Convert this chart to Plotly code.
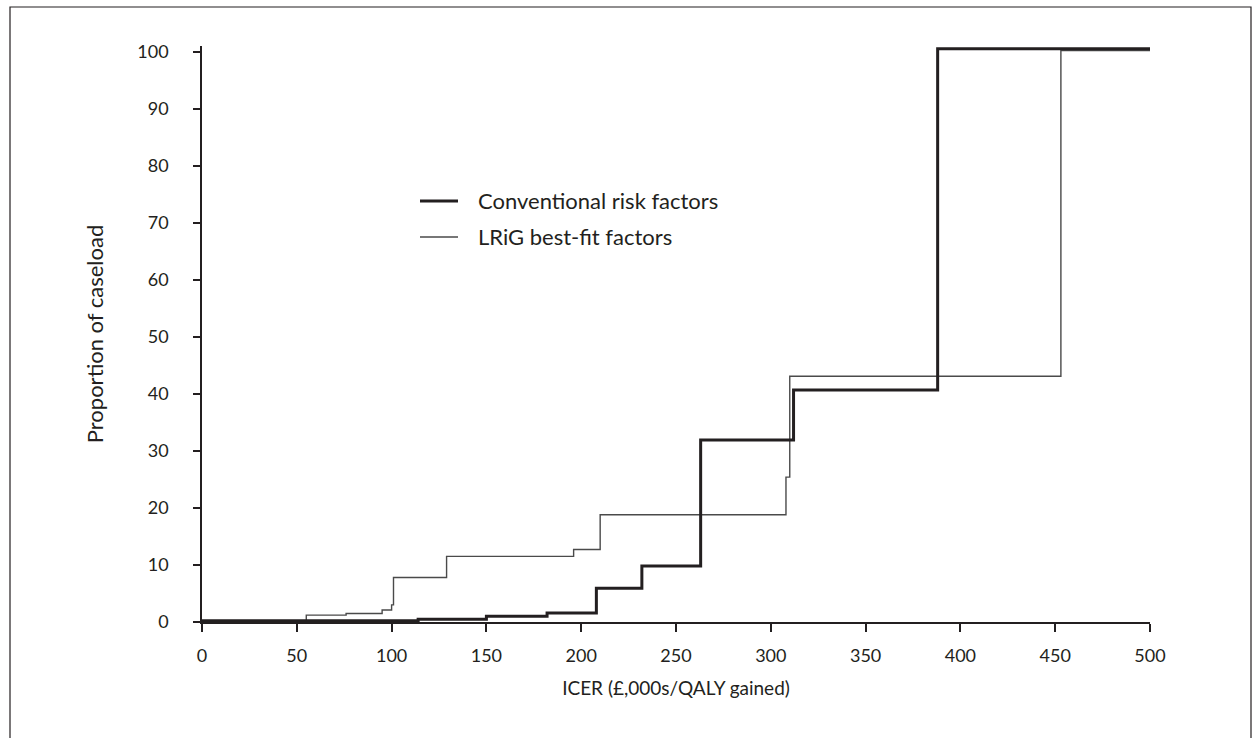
import plotly.graph_objects as go

# Cumulative proportion of caseload (%) by ICER threshold (£,000s/QALY gained)
conv_icer = [0, 114, 150, 182, 208, 232, 263, 312, 388, 500]
conv_prop = [0.2, 0.5, 1.0, 1.6, 5.9, 9.8, 31.9, 40.7, 100.5, 100.5]

lrig_icer = [0, 55, 76, 95, 100, 101, 129, 196, 210, 308, 310, 453, 500]
lrig_prop = [0.2, 1.2, 1.5, 2.1, 3.0, 7.8, 11.5, 12.7, 18.8, 25.4, 43.1, 100.2, 100.2]

x_ticks = [0, 50, 100, 150, 200, 250, 300, 350, 400, 450, 500]
y_ticks = [0, 10, 20, 30, 40, 50, 60, 70, 80, 90, 100]

series_names = ["Conventional risk factors", "LRiG best-fit factors"]

INK = "#231f20"
THIN = "#4a4a4a"
FONT = "Lato, 'Open Sans', sans-serif"

fig = go.Figure()
fig.add_trace(go.Scatter(x=lrig_icer, y=lrig_prop, mode="lines", line_shape="hv",
                         line=dict(color=THIN, width=1.4), name=series_names[1],
                         showlegend=False))
fig.add_trace(go.Scatter(x=conv_icer, y=conv_prop, mode="lines", line_shape="hv",
                         line=dict(color=INK, width=3), name=series_names[0],
                         showlegend=False))

# plot area: x 202..1150 px, y 46..622 px
PL, PR, PT, PB = 202, 1150, 46, 622
def px(x):
    return (x - PL) / (PR - PL)
def py(y):
    return (PB - y) / (PB - PT)

shapes = [
    # outer frame
    dict(type="rect", xref="paper", yref="paper",
         x0=px(10), x1=px(1251), y0=py(745), y1=py(7),
         line=dict(color=INK, width=1.2), layer="below"),
    # legend keys
    dict(type="line", xref="paper", yref="paper", x0=px(420), x1=px(458),
         y0=py(201), y1=py(201), line=dict(color=INK, width=3)),
    dict(type="line", xref="paper", yref="paper", x0=px(420), x1=px(458),
         y0=py(237), y1=py(237), line=dict(color=THIN, width=1.4)),
]
annotations = [
    dict(xref="paper", yref="paper", x=px(476), y=py(200), text=series_names[0],
         showarrow=False, xanchor="left", yanchor="middle",
         font=dict(family=FONT, size=22, color=INK)),
    dict(xref="paper", yref="paper", x=px(476), y=py(236), text=series_names[1],
         showarrow=False, xanchor="left", yanchor="middle",
         font=dict(family=FONT, size=22, color=INK)),
]

fig.update_layout(
    width=1260, height=738,
    margin=dict(l=PL, r=1260 - PR, t=PT, b=738 - PB),
    paper_bgcolor="white", plot_bgcolor="white",
    font=dict(family=FONT, size=18, color=INK),
    shapes=shapes, annotations=annotations,
    showlegend=False,
)
fig.update_xaxes(
    range=[0, 500], tickvals=x_ticks, ticktext=[str(v) for v in x_ticks],
    showgrid=False, zeroline=False, showline=True, linecolor=INK, linewidth=1.5,
    ticks="outside", ticklen=8, tickwidth=1.5, tickcolor=INK,
    ticklabelstandoff=9,
    title=dict(text="ICER (£,000s/QALY gained)", standoff=16,
               font=dict(family=FONT, size=19, color=INK)),
)
fig.update_yaxes(
    range=[0, 101], tickvals=y_ticks, ticktext=[str(v) for v in y_ticks],
    showgrid=False, zeroline=False, showline=True, linecolor=INK, linewidth=1.5,
    ticks="outside", ticklen=7, tickwidth=1.5, tickcolor=INK,
    ticklabelstandoff=21,
    title=dict(text="Proportion of caseload", standoff=28,
               font=dict(family=FONT, size=22, color=INK)),
)

fig.write_html("out.html")
